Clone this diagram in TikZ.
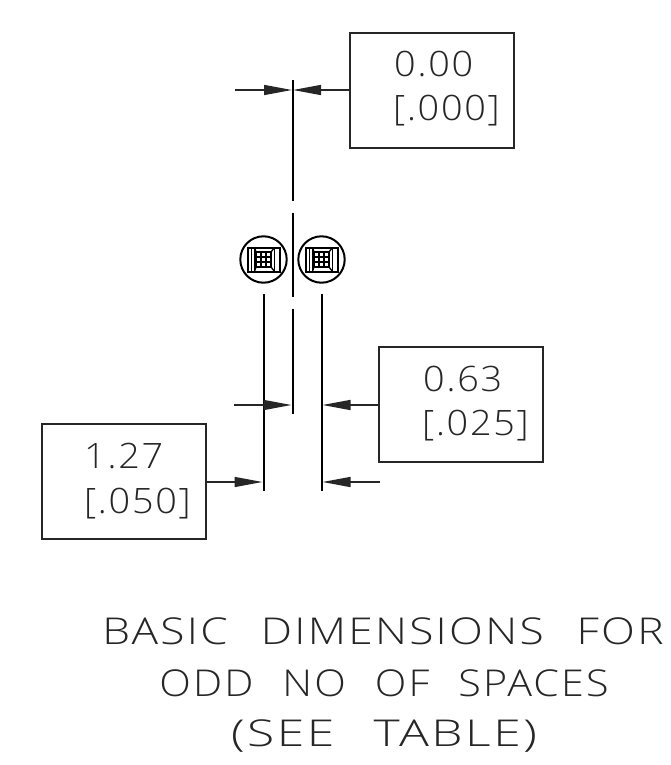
\documentclass[tikz,border=0pt]{standalone}
\usepackage{fontspec}
\usetikzlibrary{arrows.meta}
\newfontfamily\cadfont[UprightFont=* Light,FakeStretch=1.08,LetterSpace=5]{Open Sans}
\newfontfamily\capfont[UprightFont=* Light,FakeStretch=1.15,LetterSpace=6]{Open Sans}
\tikzset{
  dim/.style={line width=1.4pt,black!85},
  ext/.style={line width=2pt,black},
  boxn/.style={draw,line width=1.6pt,black!85,minimum width=164pt,minimum height=115pt,inner sep=0pt,outer sep=0pt},
  lead/.style={dim,-{Triangle[length=28pt,width=10pt,sep=0pt]}},
  val/.style={font=\cadfont\fontsize{35}{35}\selectfont,anchor=base west,inner sep=0pt,text=black!85},
  captext/.style={font=\capfont\fontsize{37}{37}\selectfont,anchor=base,inner sep=0pt,text=black!85},
  sym/.style={line width=1.3pt,black},
}
\newcommand{\viasym}[1]{%
\begin{scope}[shift={(#1)}]
  \draw[line width=2pt] (0,0) circle (23.2);
  \draw[line width=2pt] (-16,-12) rectangle (16,12);
  \draw[sym] (-12,-12)--(-12,12) (-9,-12)--(-9,12) (11,-12)--(11,12);
  \draw[sym] (-9,-12)--(-7.5,-7.5) (11,-12)--(7.5,-7.5) (-9,12)--(-7.5,7.5) (11,12)--(7.5,7.5);
  \draw[sym] (-7.5,-7.5) rectangle (7.5,7.5) (-2.5,-7.5)--(-2.5,7.5) (2.5,-7.5)--(2.5,7.5) (-7.5,-2.5)--(7.5,-2.5) (-7.5,2.5)--(7.5,2.5);
\end{scope}}
\begin{document}
\begin{tikzpicture}[x=1pt,y=-1pt]
\useasboundingbox (0,0) rectangle (670,765);
\node[boxn] (top) at (432,90.5) {};
\node[boxn] (mid) at (461,404.5) {};
\node[boxn] (low) at (124,481.5) {};
\node[val] (t1) at (394,77) {0.00};
\node[val] (t2) at (393,121) {[.000]};
\node[val] (m1) at (423,391) {0.63};
\node[val] (m2) at (422,435) {[.025]};
\node[val] (l1) at (84,468) {1.27};
\node[val] (l2) at (84,513) {[.050]};
\coordinate (ca) at (292.5,80); \coordinate (cb) at (292.5,201);
\coordinate (cc) at (292.5,213); \coordinate (cd) at (292.5,297);
\coordinate (ce) at (292.5,309); \coordinate (cf) at (292.5,414);
\draw[ext] (ca)--(cb) (cc)--(cd) (ce)--(cf);
\coordinate (la) at (263.5,294); \coordinate (lb) at (263.5,491);
\coordinate (ra) at (321.5,294); \coordinate (rb) at (321.5,491);
\draw[ext] (la)--(lb) (ra)--(rb);
\coordinate (s1) at (235,90); \coordinate (e1) at (292,90);
\draw[lead] (s1)--(e1);
\coordinate (e2) at (293,90);
\draw[lead] (top.west |- e2)--(e2);
\coordinate (s3) at (234,405); \coordinate (e3) at (291.5,405);
\draw[lead] (s3)--(e3);
\coordinate (e4) at (322.5,405);
\draw[lead] (mid.west |- e4)--(e4);
\coordinate (e5) at (262.5,482);
\draw[lead] (low.east |- e5)--(e5);
\coordinate (s6) at (380,482); \coordinate (e6) at (322.5,482);
\draw[lead] (s6)--(e6);
\viasym{263.5,259.5}
\viasym{321.5,259.5}
\node[captext] (c1) at (383,644) {\scalebox{1.04}[1]{BASIC\hspace{0.5em} DIMENSIONS\hspace{0.5em} FOR}};
\node[captext] (c2) at (384,696) {\scalebox{0.97}[1]{ODD\hspace{0.45em} NO\hspace{0.45em} OF\hspace{0.45em} SPACES}};
\node[captext] (c3) at (384,746) {\scalebox{1.17}[1]{(SEE\hspace{0.55em} TABLE)}};
\end{tikzpicture}
\end{document}
